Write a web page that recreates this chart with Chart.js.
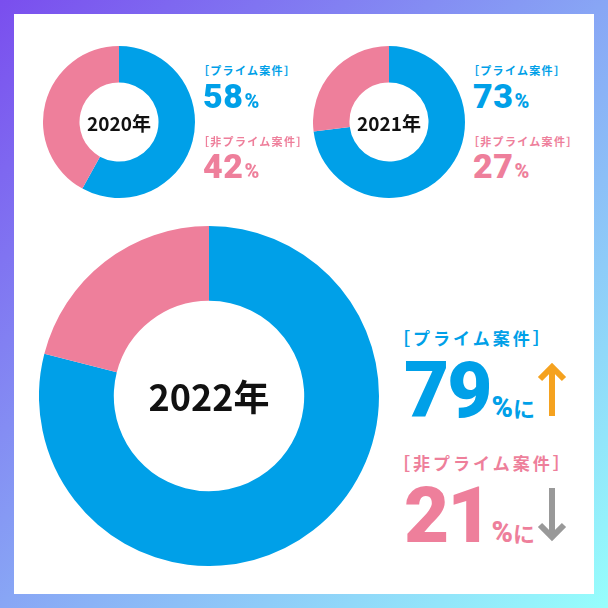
<!DOCTYPE html>
<html lang="ja">
<head>
<meta charset="utf-8">
<script src="https://cdn.jsdelivr.net/npm/chart.js@4"></script>
<style>
  html, body { margin: 0; padding: 0; }
  body {
    width: 608px; height: 608px; position: relative; overflow: hidden;
    background: linear-gradient(135deg, #7a4eee 0%, #88a6f5 50%, #96fefc 100%);
    font-family: "Noto Sans CJK JP", sans-serif;
  }
  .panel { position: absolute; left: 14px; top: 14px; width: 580px; height: 580px; background: #fff; }
  .pie { position: absolute; }
  .year {
    position: absolute; transform: translate(-50%, -50%);
    font-weight: 700; color: #111; white-space: nowrap; line-height: 1;
  }
  .lbl { position: absolute; font-weight: 700; white-space: nowrap; line-height: 1; }
  .num { position: absolute; white-space: nowrap; line-height: 1; font-weight: 900; }
  .num .d { font-family: Roboto, sans-serif; font-weight: 900; }
  .num .p { font-family: Roboto, sans-serif; font-weight: 900; }
  .num .ni { font-family: "Noto Sans CJK JP", sans-serif; font-weight: 700; }
  .blue { color: #00a0e8; }
  .pink { color: #ee7f9b; }
  svg { position: absolute; left: 0; top: 0; }
</style>
</head>
<body>
<div class="panel"></div>

<div class="pie" style="left:43px;top:46px;width:152px;height:152px;"><canvas id="pie2020"></canvas></div>
<div class="pie" style="left:313px;top:46px;width:152px;height:152px;"><canvas id="pie2021"></canvas></div>
<div class="pie" style="left:39px;top:226px;width:340px;height:340px;"><canvas id="pie2022"></canvas></div>

<div id="texts"></div>

<svg width="608" height="608">
  <!-- up arrow -->
  <path d="M552 416 V368 M540 379 L552 367 L564 379" stroke="#f5a21f" stroke-width="6" fill="none"/>
  <!-- down arrow -->
  <path d="M552 488 V536 M540 525 L552 537 L564 525" stroke="#999999" stroke-width="6" fill="none"/>
</svg>

<script>
const years = ['2020年', '2021年', '2022年'];
const seriesNames = ['プライム案件', '非プライム案件'];
const primeShare = [58, 73, 79];
const nonPrimeShare = [42, 27, 21];
const sliceColors = ['#00a0e8', '#ee7f9b'];

function makeDoughnut(id, i, cutout) {
    return new Chart(document.getElementById(id), {
        type: 'doughnut',
        data: {
            labels: seriesNames,
            datasets: [{
                data: [primeShare[i], nonPrimeShare[i]],
                backgroundColor: sliceColors,
                borderWidth: 0
            }]
        },
        options: {
            responsive: true,
            maintainAspectRatio: false,
            animation: false,
            cutout: cutout,
            layout: { padding: 0 },
            plugins: { legend: { display: false }, tooltip: { enabled: false } }
        }
    });
}

makeDoughnut('pie2020', 0, '52%');
makeDoughnut('pie2021', 1, '52%');
makeDoughnut('pie2022', 2, '56%');

// text blocks
const box = document.getElementById('texts');
function add(html, cls, style) {
    const el = document.createElement('div');
    el.className = cls;
    el.style.cssText = style;
    el.innerHTML = html;
    box.appendChild(el);
}

const centers = [[119, 122, 19], [389, 122, 19], [209, 395, 36]];
years.forEach((y, i) => {
    add(y, 'year', `left:${centers[i][0]}px;top:${centers[i][1]}px;font-size:${centers[i][2]}px;`);
});

// small charts
[[203, 0], [473, 1]].forEach(([x, i]) => {
    add('［' + seriesNames[0] + '］', 'lbl blue', `left:${x - 5}px;top:65px;font-size:11px;letter-spacing:1.3px;`);
    add(`<span class="d" style="font-size:34px;letter-spacing:0.5px">${primeShare[i]}</span><span class="p" style="font-size:20px;margin-left:1px">%</span>`,
        'num blue', `left:${x}px;top:79px;`);
    add('［' + seriesNames[1] + '］', 'lbl pink', `left:${x - 5}px;top:136px;font-size:11px;letter-spacing:1.3px;`);
    add(`<span class="d" style="font-size:34px;letter-spacing:0.5px">${nonPrimeShare[i]}</span><span class="p" style="font-size:20px;margin-left:1px">%</span>`,
        'num pink', `left:${x}px;top:149px;`);
});

// big chart
add('［' + seriesNames[0] + '］', 'lbl blue', 'left:393px;top:329px;font-size:17px;letter-spacing:3px;');
add(`<span class="d" style="font-size:78px;letter-spacing:-2px">${primeShare[2]}</span><span class="p" style="font-size:29px;margin-left:1px">%</span><span class="ni" style="font-size:22px">に</span>`,
    'num blue', 'left:404px;top:352px;');
add('［' + seriesNames[1] + '］', 'lbl pink', 'left:393px;top:454px;font-size:17px;letter-spacing:3px;');
add(`<span class="d" style="font-size:78px;letter-spacing:-2px">${nonPrimeShare[2]}</span><span class="p" style="font-size:29px;margin-left:1px">%</span><span class="ni" style="font-size:22px">に</span>`,
    'num pink', 'left:404px;top:477px;');
</script>
</body>
</html>
